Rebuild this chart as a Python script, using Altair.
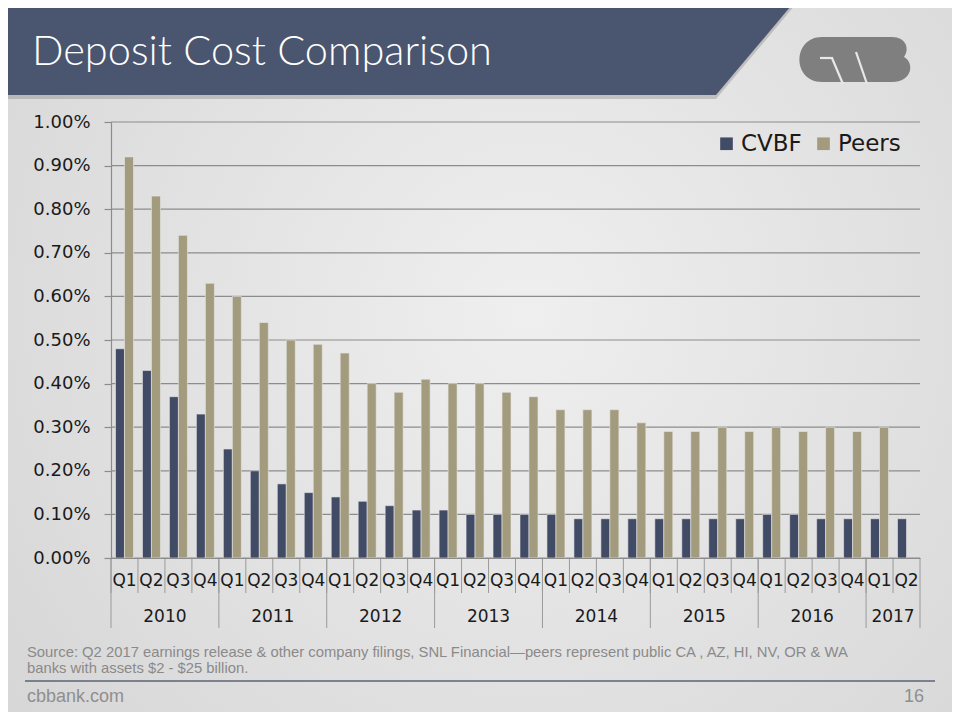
import altair as alt
import pandas as pd

# ---------------- data ----------------
years = ["2010"] * 4 + ["2011"] * 4 + ["2012"] * 4 + ["2013"] * 4 + ["2014"] * 4 + ["2015"] * 4 + ["2016"] * 4 + ["2017"] * 2
quarters = ["Q1", "Q2", "Q3", "Q4"] * 7 + ["Q1", "Q2"]
keys = [f"{y} {q}" for y, q in zip(years, quarters)]

cvbf = [0.48, 0.43, 0.37, 0.33, 0.25, 0.20, 0.17, 0.15, 0.14, 0.13, 0.12, 0.11,
        0.11, 0.10, 0.10, 0.10, 0.10, 0.09, 0.09, 0.09, 0.09, 0.09, 0.09, 0.09,
        0.10, 0.10, 0.09, 0.09, 0.09, 0.09]
peers = [0.92, 0.83, 0.74, 0.63, 0.60, 0.54, 0.50, 0.49, 0.47, 0.40, 0.38, 0.41,
         0.40, 0.40, 0.38, 0.37, 0.34, 0.34, 0.34, 0.31, 0.29, 0.29, 0.30, 0.29,
         0.30, 0.29, 0.30, 0.29, 0.30, None]

series_names = ["CVBF", "Peers"]
series_colors = ["#414B66", "#A39B7E"]

year_labels = ["2010", "2011", "2012", "2013", "2014", "2015", "2016", "2017"]
year_center_keys = ["2010 Q3", "2011 Q3", "2012 Q3", "2013 Q3", "2014 Q3", "2015 Q3", "2016 Q3", "2017 Q2"]
year_start_keys = ["2010 Q1", "2011 Q1", "2012 Q1", "2013 Q1", "2014 Q1", "2015 Q1", "2016 Q1", "2017 Q1"]

y_ticks = [0.0, 0.1, 0.2, 0.3, 0.4, 0.5, 0.6, 0.7, 0.8, 0.9, 1.0]

title_text = "Deposit Cost Comparison"
source_line1 = "Source: Q2 2017 earnings release & other company filings, SNL Financial\u2014peers represent public CA , AZ, HI, NV, OR & WA"
source_line2 = "banks with assets $2 - $25 billion."
footer_left = "cbbank.com"
footer_right = "16"

# ---------------- tables ----------------
rows = []
for k, c, p in zip(keys, cvbf, peers):
    if c is not None:
        rows.append({"key": k, "series": "CVBF", "value": c})
    if p is not None:
        rows.append({"key": k, "series": "Peers", "value": p})
bars_df = pd.DataFrame(rows)
keys_df = pd.DataFrame({"key": keys})
ystart_df = pd.DataFrame({"key": year_start_keys})
ylab_df = pd.DataFrame({"key": year_center_keys, "year": year_labels})
grid_df = pd.DataFrame({"value": y_ticks})
one = pd.DataFrame({"d": [0]})

W, H = 809, 436
GRID = "#8C8C8C"
SEP = "#9A9A9A"

# ---------------- decorations ----------------
bg = alt.Chart(one).mark_rect(
    color=alt.Gradient(
        gradient="radial",
        stops=[alt.GradientStop(color="#EFEFEF", offset=0),
               alt.GradientStop(color="#D4D4D4", offset=1)],
        x1=0.55, y1=0.45, r1=0, x2=0.55, y2=0.45, r2=0.75,
    )
).encode(x=alt.value(-111), x2=alt.value(849), y=alt.value(-122), y2=alt.value(598))

banner_path = "M 0 0 L 796 0 L 716 95 L 0 95 Z"
banner_shadow = alt.Chart(one).mark_point(
    shape=banner_path, size=4, filled=True, color="#7A7A7A", opacity=0.35, strokeWidth=0
).encode(x=alt.value(-111), y=alt.value(-118))
banner = alt.Chart(one).mark_point(
    shape=banner_path, size=4, filled=True, color="#4A556F", opacity=1, strokeWidth=0
).encode(x=alt.value(-111), y=alt.value(-122))

title = alt.Chart(one).mark_text(
    text=title_text, font="Lato", fontWeight=300, fontSize=41.5, color="white",
    align="left", baseline="alphabetic"
).encode(x=alt.value(-79), y=alt.value(-57))

logo_path = "M 22 0 L 92 0 C 106 0 110 12 104 20 C 115 26 112 45 92 45 L 22 45 C -8 45 -8 0 22 0 Z"
logo = alt.Chart(one).mark_point(
    shape=logo_path, size=4, filled=True, color="#7F7F7F", opacity=1, strokeWidth=0
).encode(x=alt.value(689), y=alt.value(-85))
cut1 = alt.Chart(one).mark_rule(color="#E8E8E8", strokeWidth=2.2).encode(
    x=alt.value(709), x2=alt.value(722), y=alt.value(-64), y2=alt.value(-64))
cut2 = alt.Chart(one).mark_rule(color="#E8E8E8", strokeWidth=2.2).encode(
    x=alt.value(721), x2=alt.value(732), y=alt.value(-64), y2=alt.value(-38))
cut3 = alt.Chart(one).mark_rule(color="#E8E8E8", strokeWidth=2.2).encode(
    x=alt.value(745), x2=alt.value(756), y=alt.value(-70), y2=alt.value(-38))

src1 = alt.Chart(one).mark_text(
    text=source_line1, font="Liberation Sans", fontSize=14.8, color="#8A8A8A",
    align="left", baseline="alphabetic"
).encode(x=alt.value(-84), y=alt.value(535))
src2 = alt.Chart(one).mark_text(
    text=source_line2, font="Liberation Sans", fontSize=14.8, color="#8A8A8A",
    align="left", baseline="alphabetic"
).encode(x=alt.value(-84), y=alt.value(551))
footer_line = alt.Chart(one).mark_rule(color="#5B6376", strokeWidth=1.5).encode(
    x=alt.value(-86), x2=alt.value(824), y=alt.value(559), y2=alt.value(559))
foot_l = alt.Chart(one).mark_text(
    text=footer_left, font="Liberation Sans", fontSize=18, color="#8F8F8F",
    align="left", baseline="alphabetic"
).encode(x=alt.value(-84), y=alt.value(580))
foot_r = alt.Chart(one).mark_text(
    text=footer_right, font="Liberation Sans", fontSize=18, color="#8F8F8F",
    align="right", baseline="alphabetic"
).encode(x=alt.value(813), y=alt.value(580))

# ---------------- chart ----------------
yscale = alt.Scale(domain=[0, 1], nice=False)
xscale = alt.Scale(paddingInner=0, paddingOuter=0)

x_axis = alt.Axis(labelExpr="split(datum.value, ' ')[1]", labelAngle=0, title=None,
                  ticks=False, domainColor=GRID, domainWidth=1.2,
                  labelFont="DejaVu Sans", labelFontSize=17,
                  labelColor="#1A1A1A", labelPadding=14,
                  labelOverlap=False, grid=False, zindex=1)
y_axis = alt.Axis(values=y_ticks, labelExpr="format(datum.value, '.2f') + '%'", title=None,
                  grid=False, domainColor=GRID, domainWidth=1.2,
                  tickColor=GRID, tickWidth=1.2, tickSize=7,
                  labelFont="DejaVu Sans", labelFontSize=18,
                  labelColor="#1A1A1A", labelPadding=14, zindex=1)

grid = alt.Chart(grid_df).mark_rule(color=GRID, strokeWidth=1.2).encode(
    y=alt.Y("value:Q", scale=yscale, axis=y_axis, title=None),
    x=alt.value(0), x2=alt.value(W))

bars = alt.Chart(bars_df).mark_bar(
    opacity=1, stroke="#E6E6E6", strokeWidth=0.6
).encode(
    x=alt.X("key:N", sort=keys, title=None, scale=xscale, axis=x_axis),
    xOffset=alt.XOffset("series:N", sort=series_names,
                        scale=alt.Scale(domain=series_names, paddingInner=0, paddingOuter=0.5)),
    y=alt.Y("value:Q", title=None, scale=yscale, axis=y_axis),
    color=alt.Color("series:N",
                    scale=alt.Scale(domain=series_names, range=series_colors),
                    legend=alt.Legend(orient="none", legendX=604, legendY=10,
                                      direction="horizontal", title=None,
                                      symbolType="square", symbolSize=160,
                                      symbolStrokeWidth=0, symbolOpacity=1,
                                      labelFont="DejaVu Sans", labelFontSize=23,
                                      labelColor="#1A1A1A", labelOffset=3,
                                      columnPadding=10, padding=0)),
)

q_sep = alt.Chart(keys_df).mark_rule(color=SEP, strokeWidth=1).encode(
    x=alt.X("key:N", sort=keys, bandPosition=0, title=None, scale=xscale, axis=x_axis),
    y=alt.value(H), y2=alt.value(471))
y_sep = alt.Chart(ystart_df).mark_rule(color=SEP, strokeWidth=1).encode(
    x=alt.X("key:N", sort=keys, bandPosition=0, title=None, scale=xscale, axis=x_axis),
    y=alt.value(H), y2=alt.value(506))
end_sep = alt.Chart(one).mark_rule(color=SEP, strokeWidth=1).encode(
    x=alt.value(W), y=alt.value(H), y2=alt.value(506))
y_text = alt.Chart(ylab_df).mark_text(
    font="DejaVu Sans", fontSize=17, color="#1A1A1A", baseline="middle", align="center"
).encode(
    x=alt.X("key:N", sort=keys, bandPosition=0, title=None, scale=xscale, axis=x_axis),
    y=alt.value(495), text="year:N")

chart = alt.layer(
    bg, banner_shadow, banner, title, logo, cut1, cut2, cut3,
    grid, bars, q_sep, y_sep, end_sep, y_text,
    src1, src2, footer_line, foot_l, foot_r,
).properties(
    width=W, height=H,
    autosize=alt.AutoSizeParams(type="none"),
    padding={"left": 103, "top": 114, "right": 32, "bottom": 154},
    background="#E2E2E2",
).configure_view(stroke=None)

chart.save("out.html", embed_options={"renderer": "svg", "actions": False})
